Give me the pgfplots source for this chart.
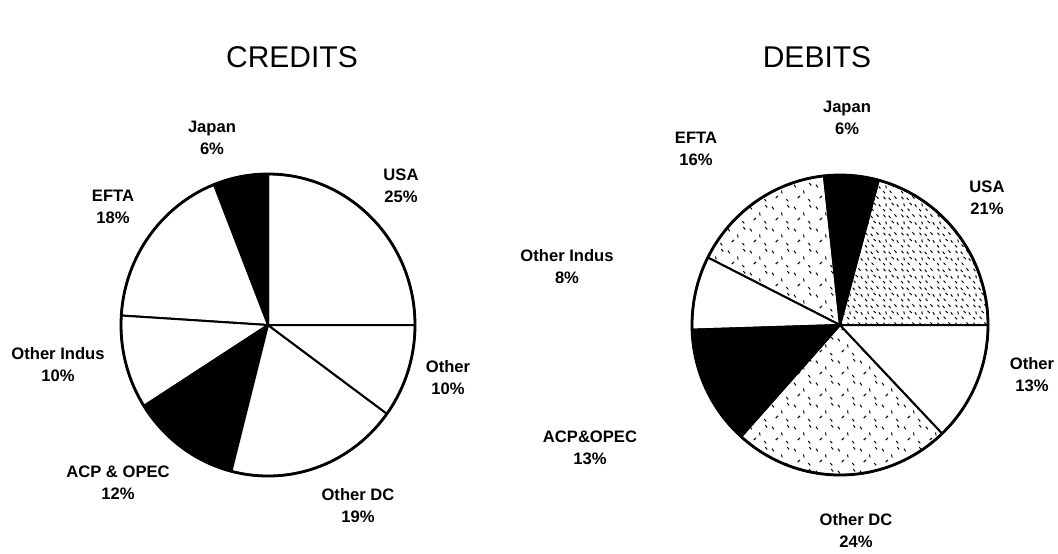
\documentclass[border=0pt]{standalone}
\usepackage{fontspec}
\setmainfont{Liberation Sans}
\usepackage{pgfplots}
\pgfplotsset{compat=1.18}
\usepackage{pgfplotstable}
\usetikzlibrary{patterns,patterns.meta}

% sparse stipple
\pgfdeclarepattern{
  name=stip, type=uncolored,
  bottom left={\pgfpoint{0pt}{0pt}}, top right={\pgfpoint{11pt}{11pt}},
  tile size={\pgfpoint{11pt}{11pt}},
  code={
    \pgfsetlinewidth{0.5pt}
    \pgfpathmoveto{\pgfpoint{1pt}{9pt}}\pgfpathlineto{\pgfpoint{2pt}{7.6pt}}
    \pgfpathmoveto{\pgfpoint{6pt}{6pt}}\pgfpathlineto{\pgfpoint{6.3pt}{4.4pt}}
    \pgfpathmoveto{\pgfpoint{3pt}{2pt}}\pgfpathlineto{\pgfpoint{4.2pt}{3.2pt}}
    \pgfpathmoveto{\pgfpoint{8.5pt}{1.5pt}}\pgfpathlineto{\pgfpoint{9.5pt}{0.3pt}}
    \pgfpathmoveto{\pgfpoint{9pt}{9.8pt}}\pgfpathlineto{\pgfpoint{10pt}{8.6pt}}
    \pgfusepath{stroke}
  }
}
% denser stipple
\pgfdeclarepattern{
  name=stipd, type=uncolored,
  bottom left={\pgfpoint{0pt}{0pt}}, top right={\pgfpoint{9pt}{9pt}},
  tile size={\pgfpoint{9pt}{9pt}},
  code={
    \pgfsetlinewidth{0.5pt}
    \pgfpathmoveto{\pgfpoint{0.8pt}{8pt}}\pgfpathlineto{\pgfpoint{1.8pt}{6.7pt}}
    \pgfpathmoveto{\pgfpoint{3.5pt}{7.5pt}}\pgfpathlineto{\pgfpoint{4.5pt}{6.3pt}}
    \pgfpathmoveto{\pgfpoint{6.5pt}{8.2pt}}\pgfpathlineto{\pgfpoint{7.6pt}{7pt}}
    \pgfpathmoveto{\pgfpoint{2pt}{4.5pt}}\pgfpathlineto{\pgfpoint{2.3pt}{3pt}}
    \pgfpathmoveto{\pgfpoint{5pt}{4.8pt}}\pgfpathlineto{\pgfpoint{6.2pt}{3.7pt}}
    \pgfpathmoveto{\pgfpoint{7.8pt}{4pt}}\pgfpathlineto{\pgfpoint{8.6pt}{2.8pt}}
    \pgfpathmoveto{\pgfpoint{0.6pt}{1.5pt}}\pgfpathlineto{\pgfpoint{1.6pt}{0.4pt}}
    \pgfpathmoveto{\pgfpoint{4pt}{1.8pt}}\pgfpathlineto{\pgfpoint{5pt}{0.6pt}}
    \pgfusepath{stroke}
  }
}

\tikzset{
  slice/.style={draw=black,line width=1pt,line join=round},
  slw/.style={fill=white},
  slb/.style={fill=black},
  sls/.style={pattern=stip,pattern color=black},
  slsd/.style={pattern=stipd,pattern color=black},
  lab/.style={font=\bfseries\fontsize{8.3}{11}\selectfont,align=center,inner sep=0pt},
  ttl/.style={font=\fontsize{15}{18}\selectfont,inner sep=0pt},
}

% name, percent, fill style, label position (px)
\pgfplotstableread[col sep=comma]{
name,pct,sty,lx,ly
USA,25,w,401,186
Japan,6,b,212,138
EFTA,18,w,113,207
Other Indus,10,w,58,365
ACP \& OPEC,12,b,118,483
Other DC,19,w,358,506
Other,10,w,448,378
}\credits

\pgfplotstableread[col sep=comma]{
name,pct,sty,lx,ly
USA,21,sd,987,198
Japan,6,b,847,118
EFTA,16,s,696,149
Other Indus,8,w,567,267
ACP\&OPEC,13,b,590,448
Other DC,24,s,856,531
Other,13,w,1032,375
}\debits

% #1 table, #2 cx, #3 cy, #4 rx, #5 ry  (pixel units, 1px = 0.5pt)
\newcommand\drawpie[5]{%
  \pgfplotstablegetrowsof{#1}%
  \pgfmathtruncatemacro\lastrow{\pgfplotsretval-1}%
  \def\pietotal{0}%
  \pgfplotsforeachungrouped \i in {0,...,\lastrow}{%
    \pgfplotstablegetelem{\i}{pct}\of{#1}%
    \pgfmathsetmacro\pietotal{\pietotal+\pgfplotsretval}%
  }%
  \def\pieacc{0}%
  \pgfmathsetmacro\rx{0.5*#4}%
  \pgfmathsetmacro\ry{0.5*#5}%
  \pgfplotsforeachungrouped \i in {0,...,\lastrow}{%
    \pgfplotstablegetelem{\i}{pct}\of{#1}\let\pct\pgfplotsretval
    \pgfplotstablegetelem{\i}{sty}\of{#1}\let\sty\pgfplotsretval
    \pgfplotstablegetelem{\i}{name}\of{#1}\let\nm\pgfplotsretval
    \pgfplotstablegetelem{\i}{lx}\of{#1}\let\lx\pgfplotsretval
    \pgfplotstablegetelem{\i}{ly}\of{#1}\let\ly\pgfplotsretval
    \pgfmathsetmacro\aS{\pieacc}%
    \pgfmathsetmacro\aE{\pieacc+360*\pct/\pietotal}%
    \pgfmathsetmacro\px{#2+#4*cos(\aS)}%
    \pgfmathsetmacro\py{#3-#5*sin(\aS)}%
    \edef\cmd{\noexpand\filldraw[slice,sl\sty] (axis cs:#2,#3) -- (axis cs:\px,\py)
      arc[start angle=\aS,end angle=\aE,x radius=\rx pt,y radius=\ry pt] -- cycle;}%
    \cmd
    \edef\cmd{\noexpand\node[lab] at (axis cs:\lx,\ly)
      {\unexpanded\expandafter{\nm}\noexpand\\\pct\noexpand\%};}%
    \cmd
    \let\pieacc\aE
  }%
  \edef\cmd{\noexpand\draw[line width=1.4pt] (axis cs:#2,#3)
    ellipse[x radius=\rx pt,y radius=\ry pt];}%
  \cmd
}

\begin{document}
\begin{tikzpicture}
\begin{axis}[
  scale only axis, width=529pt, height=276.5pt,
  xmin=0, xmax=1058, ymin=0, ymax=553, y dir=reverse,
  hide axis, clip=false,
]
  \drawpie{\credits}{268}{325}{147}{151}
  \drawpie{\debits}{840}{325}{148}{150}
  \node[ttl] at (axis cs:292,57) {CREDITS};
  \node[ttl] at (axis cs:817,57) {DEBITS};
\end{axis}
\pgfresetboundingbox
\useasboundingbox (0,0) rectangle (529pt,276.5pt);
\end{tikzpicture}
\end{document}
